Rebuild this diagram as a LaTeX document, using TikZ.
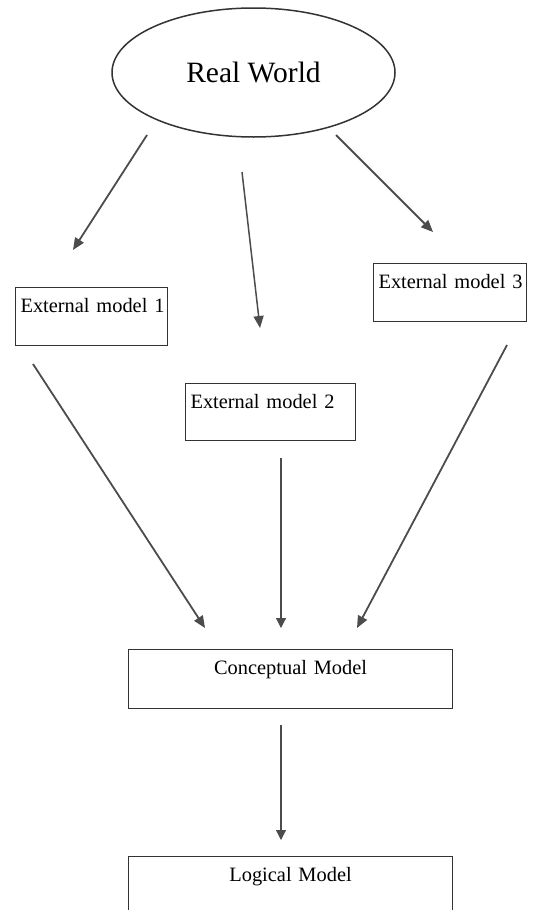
\documentclass[tikz,border=0pt]{standalone}
\usepackage{fontspec}
\setmainfont{Liberation Serif}
\usetikzlibrary{arrows.meta,shapes.geometric}

\begin{document}
\begin{tikzpicture}[
    x=1pt, y=-1pt,
    mbox/.style={draw=black!80, line width=1.1pt, anchor=north west, inner xsep=5pt, inner ysep=0pt,
                 text height=24.5pt, font=\fontsize{20.4}{24}\selectfont},
    flow/.style={-{Triangle[length=12pt,width=10pt]}, line width=1.8pt, black!70},
    thinflow/.style={-{Triangle[length=10pt,width=10pt]}, line width=1.1pt, black!70},
]
\useasboundingbox (0,0) rectangle (533,910);

\node[draw=black!80, line width=1.5pt, ellipse, minimum width=283pt, minimum height=129pt, inner sep=0pt,
      font=\fontsize{29.5}{34}\selectfont] (world) at (253.5,72.5) {Real World};

\node[mbox, text width=142pt, text depth=33.5pt, align=left] (ext1) at (15,287) {External~model~1};
\node[mbox, text width=160pt, text depth=32.5pt, align=left] (ext2) at (185,383) {External~model~2};
\node[mbox, text width=143pt, text depth=33.5pt, align=left] (ext3) at (373,263) {External~model~3};
\node[mbox, text width=314pt, text depth=34.5pt, align=center] (concept) at (128,649) {Conceptual Model};
\node[mbox, text width=314pt, text depth=60pt, align=center] (logic) at (128,856) {Logical Model};

\coordinate (w1) at (147,135);  \coordinate (e1in) at (73,250);
\coordinate (w2) at (242,172);  \coordinate (e2in) at (260,328);
\coordinate (w3) at (336,135);  \coordinate (e3in) at (433,232);
\coordinate (e1out) at (33,364);  \coordinate (c1in) at (205,628);
\coordinate (e2out) at (281,458); \coordinate (c2in) at (281,628);
\coordinate (e3out) at (507,345); \coordinate (c3in) at (357,628);
\coordinate (cout) at (281,725);  \coordinate (lin) at (281,840);

\draw[flow] (w1) -- (e1in);
\draw[flow, line width=1.5pt] (w2) -- (e2in);
\draw[flow] (w3) -- (e3in);
\draw[flow] (e1out) -- (c1in);
\draw[thinflow] (e2out) -- (c2in);
\draw[flow] (e3out) -- (c3in);
\draw[thinflow] (cout) -- (lin);
\end{tikzpicture}
\end{document}
